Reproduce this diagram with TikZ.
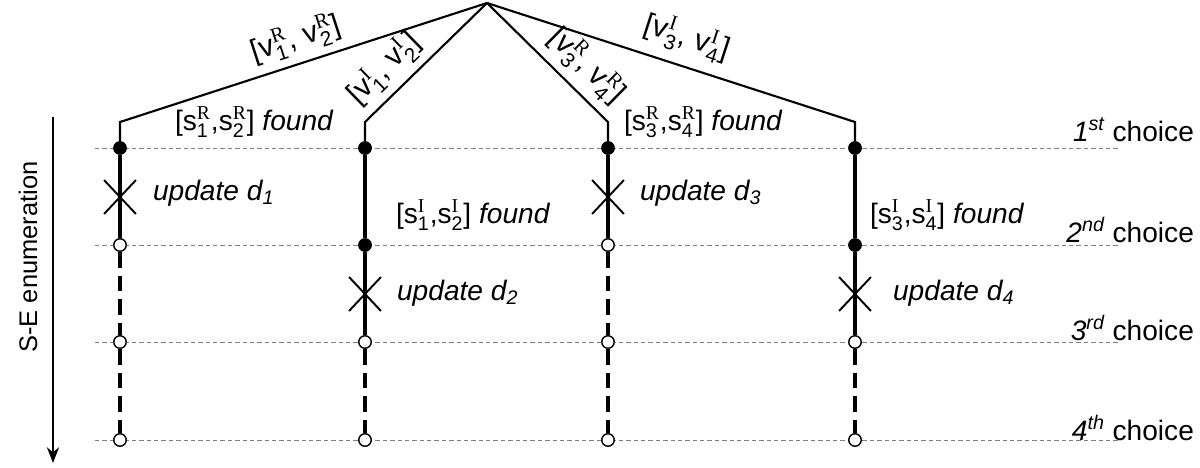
\documentclass[tikz,border=0pt]{standalone}
\usepackage{amsmath}
\usepackage{fontspec}
\setmainfont{Liberation Sans}
\setsansfont{Liberation Sans}
\newfontfamily\serf{Liberation Serif}
\usetikzlibrary{arrows.meta, shapes.misc}

% symbol with sans index and serif superscript
\newcommand{\vsym}[3]{#1$_{\text{#2}}^{\text{\serf #3}}$}

\begin{document}
\begin{tikzpicture}[x=0.02cm, y=-0.02cm]

	\tikzstyle{full_dot}=[circle, fill=black, draw=black, inner sep=0pt, minimum size=0.26cm]
	\tikzstyle{open_dot}=[circle, fill=white, draw=black, line width=0.8pt, inner sep=0pt, minimum size=0.25cm]
	\tikzstyle{update_mark}=[cross out, draw=black, line width=1.1pt, inner sep=0pt, minimum width=0.6cm, minimum height=0.64cm]
	\tikzstyle{choice_line}=[draw=gray, line width=0.5pt, dash pattern=on 2.5pt off 1.7pt]
	\tikzstyle{branch}=[draw=black, line width=1.2pt]
	\tikzstyle{found_path}=[draw=black, line width=2.3pt]
	\tikzstyle{open_path}=[draw=black, line width=1.8pt, dash pattern=on 9pt off 4.5pt]
	\tikzstyle{big_text}=[font=\fontsize{16}{19}\selectfont, inner sep=1pt]
	\tikzstyle{slope_text}=[font=\fontsize{17}{20}\selectfont, sloped, above, inner sep=4pt]

	\useasboundingbox (0,0) rectangle (1200,467);

	% Choice levels
	\foreach \y [count=\j] in {148,245,342,440} {
		\coordinate (gl\j) at (95,\y);
		\coordinate (gr\j) at (1120,\y);
		\draw[choice_line] (gl\j) -- (gr\j);
	}
	\node[big_text, anchor=east] at (1196,130) (ch1) {\textit{1\textsuperscript{st}} choice};
	\node[big_text, anchor=east] at (1196,230) (ch2) {\textit{2\textsuperscript{nd}} choice};
	\node[big_text, anchor=east] at (1196,328) (ch3) {\textit{3\textsuperscript{rd}} choice};
	\node[big_text, anchor=east] at (1196,428) (ch4) {\textit{4\textsuperscript{th}} choice};

	% Main nodes
	\coordinate (root) at (487,3);
	\coordinate (b1) at (120,122);
	\coordinate (b2) at (365,122);
	\coordinate (b3) at (608,122);
	\coordinate (b4) at (855,122);

	\node[full_dot] at (120,148) (c1r1) {};
	\node[open_dot] at (120,245) (c1r2) {};
	\node[open_dot] at (120,342) (c1r3) {};
	\node[open_dot] at (120,440) (c1r4) {};

	\node[full_dot] at (365,148) (c2r1) {};
	\node[full_dot] at (365,245) (c2r2) {};
	\node[open_dot] at (365,342) (c2r3) {};
	\node[open_dot] at (365,440) (c2r4) {};

	\node[full_dot] at (608,148) (c3r1) {};
	\node[open_dot] at (608,245) (c3r2) {};
	\node[open_dot] at (608,342) (c3r3) {};
	\node[open_dot] at (608,440) (c3r4) {};

	\node[full_dot] at (855,148) (c4r1) {};
	\node[full_dot] at (855,245) (c4r2) {};
	\node[open_dot] at (855,342) (c4r3) {};
	\node[open_dot] at (855,440) (c4r4) {};

	\node[update_mark] at (120,197) (x1) {};
	\node[update_mark] at (365,294) (x2) {};
	\node[update_mark] at (608,197) (x3) {};
	\node[update_mark] at (855,294) (x4) {};

	% Text nodes
	\node[big_text, anchor=west] at (173,122) (f1) {[\vsym{s}{1}{R},\vsym{s}{2}{R}] \textit{found}};
	\node[big_text, anchor=west] at (394,215) (f2) {[\vsym{s}{1}{I},\vsym{s}{2}{I}] \textit{found}};
	\node[big_text, anchor=west] at (622,122) (f3) {[\vsym{s}{3}{R},\vsym{s}{4}{R}] \textit{found}};
	\node[big_text, anchor=west] at (868,215) (f4) {[\vsym{s}{3}{I},\vsym{s}{4}{I}] \textit{found}};

	\node[big_text, anchor=west] at (151,193) (u1) {\textit{update d\textsubscript{1}}};
	\node[big_text, anchor=west] at (395,293) (u2) {\textit{update d\textsubscript{2}}};
	\node[big_text, anchor=west] at (638,193) (u3) {\textit{update d\textsubscript{3}}};
	\node[big_text, anchor=west] at (891,293) (u4) {\textit{update d\textsubscript{4}}};

	\node[rotate=90, font=\fontsize{14.5}{17}\selectfont] at (28,257) (enum) {S-E enumeration};
	\coordinate (enum_start) at (53,117);
	\coordinate (enum_end) at (53,463);

	% Connections
	\draw[branch] (c1r1) -- (b1) -- node[slope_text, pos=0.5] {[\vsym{v}{1}{R}, \vsym{v}{2}{R}]} (root);
	\draw[branch] (c2r1) -- (b2) -- node[slope_text, pos=0.3] {[\vsym{v}{1}{I}, \vsym{v}{2}{I}]} (root);
	\draw[branch] (root) -- node[slope_text, pos=0.68] {[\vsym{v}{3}{R}, \vsym{v}{4}{R}]} (b3) -- (c3r1);
	\draw[branch] (root) -- node[slope_text, pos=0.52, inner sep=6pt] {[\vsym{v}{3}{I}, \vsym{v}{4}{I}]} (b4) -- (c4r1);

	\draw[found_path] (c1r1) -- (c1r2);
	\draw[open_path] (c1r2) -- (c1r3);
	\draw[open_path] (c1r3) -- (c1r4);

	\draw[found_path] (c2r1) -- (c2r2);
	\draw[found_path] (c2r2) -- (c2r3);
	\draw[open_path] (c2r3) -- (c2r4);

	\draw[found_path] (c3r1) -- (c3r2);
	\draw[open_path] (c3r2) -- (c3r3);
	\draw[open_path] (c3r3) -- (c3r4);

	\draw[found_path] (c4r1) -- (c4r2);
	\draw[found_path] (c4r2) -- (c4r3);
	\draw[open_path] (c4r3) -- (c4r4);

	\draw[line width=0.8pt, -{Stealth[length=9pt, width=7pt]}] (enum_start) -- (enum_end);
\end{tikzpicture}
\end{document}
